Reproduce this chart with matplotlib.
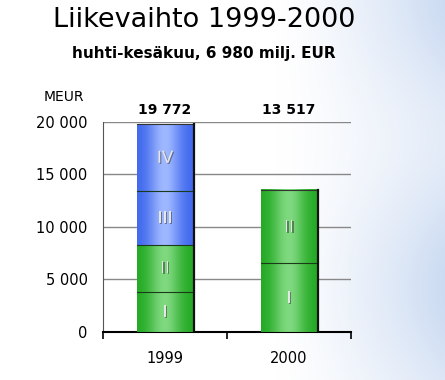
import numpy as np
import matplotlib
matplotlib.use('Agg')
import matplotlib.pyplot as plt
import matplotlib.patheffects as pe

plt.rcParams['font.family'] = ['DejaVu Sans']

years = ['1999', '2000']
quarters = ['I', 'II', 'III', 'IV']
# quarterly revenue, MEUR
q1999 = [3840, 4450, 5110, 6372]
q2000 = [6540, 6977]
totals = ['19 772', '13 517']
yticks = [0, 5000, 10000, 15000, 20000]
ytick_labels = ['0', '5 000', '10 000', '15 000', '20 000']

green_edge, green_mid = np.array([0.13, 0.66, 0.13]), np.array([0.50, 0.85, 0.50])
blue_edge, blue_mid = np.array([0.24, 0.40, 0.93]), np.array([0.62, 0.72, 1.0])

fig = plt.figure(figsize=(4.45, 3.80), dpi=100)

# background: white fading to light blue on the right
bg = fig.add_axes([0, 0, 1, 1], zorder=-10)
xx, yy = np.meshgrid(np.linspace(0, 1, 200), np.linspace(0, 1, 200))
t = np.clip((xx - 0.62) / 0.38, 0, 1) ** 1.3 * (0.55 + 0.45 * np.sin(yy * 4 + 0.6) ** 2)
white = np.array([1.0, 1.0, 1.0])
blue = np.array([0.80, 0.86, 0.95])
img = white[None, None, :] * (1 - t[..., None]) + blue[None, None, :] * t[..., None]
bg.imshow(img, aspect='auto', extent=(0, 1, 0, 1), origin='lower')
bg.axis('off')

ax = fig.add_axes([0.2315, 0.1263, 0.5575, 0.5527])
ax.patch.set_alpha(0)

width = 0.46
def shade(edge, mid):
    s = np.linspace(0, 1, 60)
    k = np.exp(-((s - 0.48) / 0.28) ** 2)
    return (edge[None, :] * (1 - k[:, None]) + mid[None, :] * k[:, None])[None, :, :]

for i, vals in enumerate([q1999, q2000]):
    bottom = 0
    x0, x1 = i - width / 2, i + width / 2
    for j, v in enumerate(vals):
        if j < 2:
            g = shade(green_edge, green_mid)
        else:
            g = shade(blue_edge, blue_mid)
        ax.imshow(g, aspect='auto', extent=(x0, x1, bottom, bottom + v), zorder=3)
        ax.plot([x0, x1], [bottom, bottom], color='#1a3a1a', lw=0.8, zorder=4)
        ax.text(i, bottom + v / 2, quarters[j], ha='center', va='center',
                fontsize=12, color='#e6e6e6', zorder=5,
                path_effects=[pe.withSimplePatchShadow(offset=(0.8, -0.8), shadow_rgbFace='#333333', alpha=0.5)])
        bottom += v
    ax.plot([x0, x1], [bottom, bottom], color='#333333', lw=0.8, zorder=4)
    ax.plot([x1, x1], [0, bottom], color='#111111', lw=1.6, zorder=4)
    ax.text(i, 20450, totals[i], ha='center', va='bottom', fontsize=10, fontweight='bold')

ax.set_xlim(-0.5, 1.5)
ax.set_ylim(0, 20000)
ax.set_yticks(yticks)
ax.set_yticklabels(ytick_labels, fontsize=10.5)
ax.tick_params(axis='y', length=0, pad=11)
ax.yaxis.grid(True, color='#888888', lw=1)
ax.set_axisbelow(True)
ax.set_xticks([0, 1])
ax.set_xticklabels(years, fontsize=10.5)
ax.set_xticks([-0.5, 0.5, 1.5], minor=True)
ax.tick_params(axis='x', which='major', length=0, pad=14)
ax.tick_params(axis='x', which='minor', length=5, width=1.2, direction='out')
for s in ['top', 'right']:
    ax.spines[s].set_visible(False)
ax.spines['bottom'].set_linewidth(1.5)
ax.spines['left'].set_color('#555555')
ax.spines['left'].set_linewidth(0.8)
ax.text(-0.157, 1.12, 'MEUR', transform=ax.transAxes, ha='center', va='center', fontsize=10)

fig.text(0.459, 0.948, 'Liikevaihto 1999-2000', ha='center', va='center', fontsize=19.5)
fig.text(0.459, 0.858, 'huhti-kesäkuu, 6 980 milj. EUR', ha='center', va='center',
         fontsize=11, fontweight='bold')

fig.savefig('out.png', dpi=100)
